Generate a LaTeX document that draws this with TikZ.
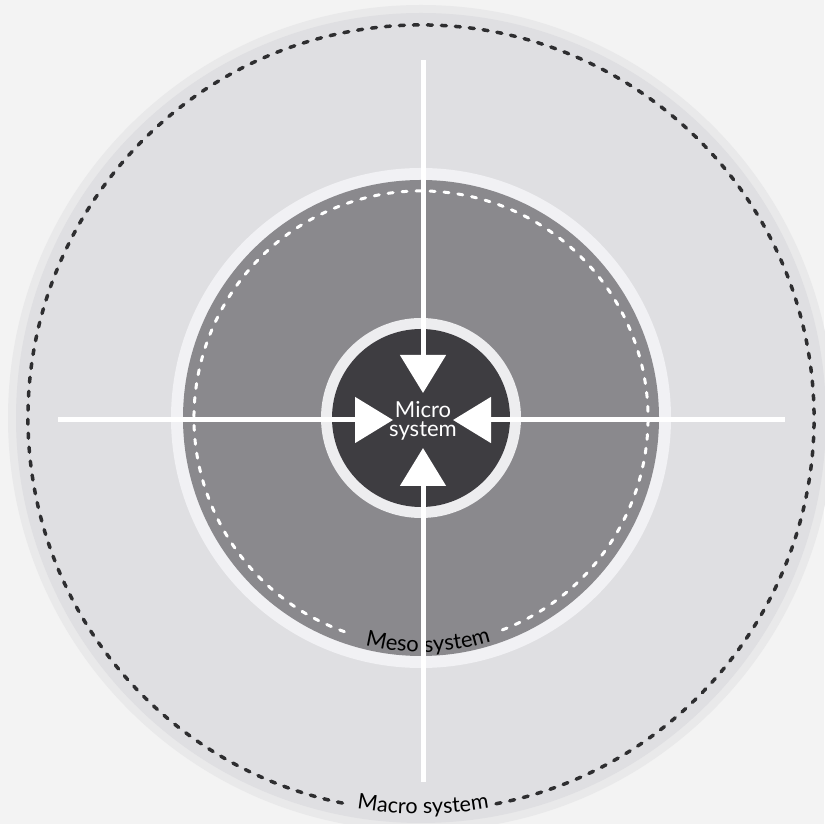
\documentclass[tikz,border=0pt]{standalone}
\usepackage{fontspec}
\setmainfont{Lato}
\usetikzlibrary{arrows.meta,decorations.text,calc}
\definecolor{pagebg}{HTML}{F3F3F3}
\definecolor{macrorim}{HTML}{E9E9EA}
\definecolor{macrofill}{HTML}{DFDFE2}
\definecolor{mesoring}{HTML}{F1F1F4}
\definecolor{mesofill}{HTML}{8A898D}
\definecolor{microring}{HTML}{EDEDEF}
\definecolor{microfill}{HTML}{3E3D41}
\definecolor{dashdark}{HTML}{2E2E30}
\tikzset{
  flowline/.style={draw=white, line width=5pt, line cap=butt,
    -{Triangle[width=45pt,length=38pt]}},
  labelfont/.style={font=\fontsize{22}{19.5}\selectfont},
}
\begin{document}
\begin{tikzpicture}[x=1pt,y=1pt]
\useasboundingbox (0,0) rectangle (824,824);
\fill[pagebg] (0,0) rectangle (824,824);
\coordinate (C) at (421,406);
% macro
\fill[macrorim] (C) circle[radius=413];
\fill[macrofill] (C) circle[radius=405];
\draw[dashdark, line width=3.5pt, dash pattern=on 5pt off 9pt, line cap=round]
  ($(C)+(281:393)$) arc[start angle=281, end angle=618.5, radius=393];
\path[decorate, decoration={text along path, text align=center,
  text={|\fontsize{21.5}{21.5}\selectfont\color{black}|Macro system}}]
  ($(C)+(240.3:396)$) arc[start angle=240.3, end angle=300.3, radius=396];
% meso
\fill[mesoring] (C) circle[radius=250];
\fill[mesofill] (C) circle[radius=238];
\draw[white, line width=3pt, dash pattern=on 5pt off 9pt, line cap=round]
  ($(C)+(291:227)$) arc[start angle=291, end angle=611, radius=227];
\path[decorate, decoration={text along path, text align=center,
  text={|\fontsize{22}{22}\selectfont\color{black}|Meso system}}]
  ($(C)+(236.8:234)$) arc[start angle=236.8, end angle=306.8, radius=234];
% micro
\fill[microring] (C) circle[radius=100];
\fill[microfill] (C) circle[radius=89];
\node[labelfont, text=white, align=center, inner sep=0pt] (micro) at (423,403) {Micro\\system};
% connectors
\coordinate (topend) at (423,764);
\coordinate (toptip) at (423,431);
\coordinate (botend) at (423,42);
\coordinate (bottip) at (423,376);
\coordinate (leftend) at (58,404);
\coordinate (lefttip) at (393,404);
\coordinate (rightend) at (785,404);
\coordinate (righttip) at (453,404);
\draw[flowline] (topend) -- (toptip);
\draw[flowline] (botend) -- (bottip);
\draw[flowline] (leftend) -- (lefttip);
\draw[flowline] (rightend) -- (righttip);
\end{tikzpicture}
\end{document}
